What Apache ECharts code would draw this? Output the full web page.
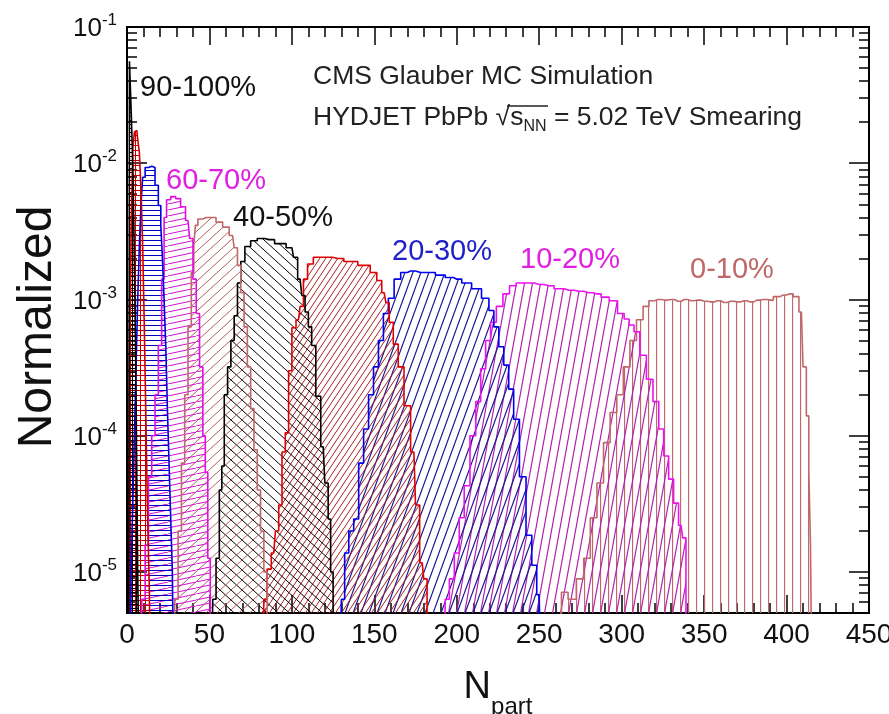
<!DOCTYPE html>
<html>
<head>
<meta charset="utf-8">
<script src="https://cdn.jsdelivr.net/npm/echarts@6/dist/echarts.min.js"></script>
<style>
  html, body { margin: 0; padding: 0; background: #fff; }
  #chart { width: 889px; height: 714px; }
</style>
</head>
<body>
<div id="chart"></div>
<script>
// Npart bins and normalized counts, one pair per centrality class
var np_0_10 = [262, 265, 270, 275, 279, 283, 287, 291, 295, 299, 303, 307, 311, 315, 318, 322, 326, 330, 334, 338, 342, 346, 350, 354, 358, 362, 366, 370, 374, 378, 382, 386, 390, 394, 398, 402, 406, 409, 411, 413, 414, 415, 416];
var val_0_10 = [1e-6, 7.1e-6, 6.3e-6, 8.9e-6, 1.26e-5, 2.5e-5, 4.5e-5, 8.9e-5, 1.48e-4, 2.0e-4, 3.2e-4, 5.0e-4, 7.1e-4, 8.9e-4, 9.8e-4, 1.0e-3, 9.9e-4, 1.0e-3, 9.7e-4, 1.0e-3, 9.8e-4, 9.9e-4, 9.7e-4, 9.6e-4, 9.8e-4, 9.5e-4, 9.7e-4, 9.6e-4, 9.8e-4, 9.6e-4, 9.9e-4, 1.0e-3, 9.9e-4, 1.05e-3, 1.08e-3, 1.1e-3, 1.05e-3, 8.1e-4, 3.2e-4, 1.4e-4, 5.6e-5, 1.6e-5, 1e-6];

var np_10_20 = [192, 194, 197, 200, 203, 206, 210, 213, 216, 219, 222, 226, 230, 234, 238, 244, 250, 256, 262, 268, 274, 280, 285, 290, 295, 300, 303, 306, 309, 313, 317, 321, 324, 327, 330, 333, 336, 338, 340];
var val_10_20 = [1e-6, 6.3e-6, 8.9e-6, 1.38e-5, 2.5e-5, 4.3e-5, 1.0e-4, 1.78e-4, 3.1e-4, 5.0e-4, 6.8e-4, 8.9e-4, 1.1e-3, 1.26e-3, 1.32e-3, 1.32e-3, 1.29e-3, 1.26e-3, 1.2e-3, 1.17e-3, 1.15e-3, 1.12e-3, 1.1e-3, 1.04e-3, 9.8e-4, 7.9e-4, 7.2e-4, 6.5e-4, 5.8e-4, 3.9e-4, 2.6e-4, 1.78e-4, 1.12e-4, 7.1e-5, 4.8e-5, 3.2e-5, 2.2e-5, 1.78e-5, 1e-6];

var np_20_30 = [129, 131, 133, 136, 139, 142, 145, 148, 151, 154, 157, 160, 164, 168, 172, 178, 184, 190, 196, 200, 206, 212, 218, 221, 224, 227, 230, 233, 236, 240, 244, 247, 250, 252];
var val_20_30 = [1e-6, 6.3e-6, 1.38e-5, 2.0e-5, 2.45e-5, 6.3e-5, 1.12e-4, 2.0e-4, 3.2e-4, 5.0e-4, 7.9e-4, 1.02e-3, 1.41e-3, 1.58e-3, 1.62e-3, 1.58e-3, 1.58e-3, 1.51e-3, 1.45e-3, 1.41e-3, 1.32e-3, 1.2e-3, 1.02e-3, 8.3e-4, 6.3e-4, 4.5e-4, 3.3e-4, 2.2e-4, 1.32e-4, 5.0e-5, 1.86e-5, 1.12e-5, 6.8e-6, 1e-6];

var np_30_40 = [82, 84, 86, 89, 91, 93, 95, 97, 99, 101, 104, 106, 108, 111, 115, 121, 128, 135, 145, 150, 153, 156, 158, 160, 163, 166, 170, 174, 176, 179, 181, 183];
var val_30_40 = [1e-6, 6.3e-6, 1.05e-5, 1.38e-5, 2.0e-5, 3.1e-5, 7.6e-5, 1.05e-4, 3.0e-4, 6.2e-4, 7.1e-4, 8.9e-4, 1.41e-3, 1.82e-3, 2.04e-3, 2.04e-3, 2.0e-3, 1.9e-3, 1.78e-3, 1.58e-3, 1.38e-3, 1.12e-3, 9.5e-4, 6.8e-4, 4.7e-4, 3.2e-4, 1.66e-4, 7.6e-5, 3.1e-5, 1.17e-5, 8.9e-6, 1e-6];

var np_40_50 = [51, 53, 55, 57, 58, 60, 62, 64, 66, 68, 70, 73, 77, 81, 86, 93, 100, 102, 105, 107, 109, 111, 113, 116, 119, 121, 123, 124, 126];
var val_40_50 = [1e-6, 6.3e-6, 1.26e-5, 4.0e-5, 6.0e-5, 2.0e-4, 3.2e-4, 5.0e-4, 7.6e-4, 1.32e-3, 1.9e-3, 2.45e-3, 2.7e-3, 2.8e-3, 2.75e-3, 2.57e-3, 2.4e-3, 2.04e-3, 1.41e-3, 1.07e-3, 8.1e-4, 6.3e-4, 4.6e-4, 1.95e-4, 8.3e-5, 4.5e-5, 2.45e-5, 1.0e-5, 1e-6];

var np_50_60 = [28, 30, 32, 34, 36, 38, 40, 41, 42, 44, 48, 52, 56, 60, 64, 66, 68, 70, 72, 74, 76, 78, 80, 82, 84, 86];
var val_50_60 = [1e-6, 6.3e-6, 2.0e-5, 6.3e-5, 2.0e-4, 6.3e-4, 1.58e-3, 2.5e-3, 3.5e-3, 3.9e-3, 4.0e-3, 4.0e-3, 3.7e-3, 3.4e-3, 2.95e-3, 2.4e-3, 1.78e-3, 1.12e-3, 6.3e-4, 3.2e-4, 1.58e-4, 7.9e-5, 4.0e-5, 2.0e-5, 1.0e-5, 1e-6];

var np_60_70 = [8, 10, 12, 14, 16, 18, 20, 22, 23, 25, 28, 31, 34, 37, 39, 41, 43, 45, 47, 48, 50, 51];
var val_60_70 = [1e-6, 6.3e-6, 1.58e-5, 5.0e-5, 1.0e-4, 2.0e-4, 4.6e-4, 1.41e-3, 4.0e-3, 5.4e-3, 5.7e-3, 5.5e-3, 4.8e-3, 3.8e-3, 2.8e-3, 1.41e-3, 7.9e-4, 3.2e-4, 1.0e-4, 5.4e-5, 1.26e-5, 1e-6];

var np_70_80 = [2, 3, 4, 5, 6, 7, 8, 9, 10, 12, 14, 16, 18, 20, 21, 22, 23, 24, 25, 26, 27, 28, 29];
var val_70_80 = [1e-6, 1.0e-5, 3.2e-5, 1.0e-4, 3.2e-4, 1.0e-3, 2.5e-3, 5.0e-3, 7.9e-3, 9.3e-3, 9.5e-3, 9.3e-3, 6.9e-3, 4.9e-3, 3.5e-3, 2.0e-3, 1.0e-3, 4.6e-4, 1.58e-4, 6.3e-5, 2.5e-5, 1.0e-5, 1e-6];

var np_80_90 = [1, 2, 3, 4, 5, 6, 7, 8, 9, 10, 11, 12, 13, 14, 15];
var val_80_90 = [1e-6, 3.2e-4, 3.2e-3, 1.26e-2, 1.7e-2, 1.74e-2, 1.5e-2, 1.2e-2, 6.3e-3, 2.5e-3, 6.3e-4, 1.26e-4, 2.5e-5, 8e-6, 1e-6];

var np_90_100 = [1, 2, 3, 4, 5, 6, 7, 8];
var val_90_100 = [1e-6, 5.6e-2, 2.5e-2, 1.0e-2, 2.0e-3, 2.0e-4, 1.0e-5, 1e-6];

var xTicks = [0, 450, 50];          // min, max, step
var yRange = [5e-6, 0.1];

var FONT = '"Liberation Sans", Arial, Helvetica, sans-serif';

// hatch fill like ROOT fill styles
function hatch(color, w, h, kind, lw) {
    var c = document.createElement('canvas');
    c.width = w;
    c.height = h;
    var ctx = c.getContext('2d');
    ctx.strokeStyle = color;
    ctx.lineWidth = lw || 1;
    ctx.beginPath();
    var k;
    if (kind === '/') {
        for (k = -1; k <= 1; k++) { ctx.moveTo(k * w, h); ctx.lineTo(k * w + w, 0); }
    }
    if (kind === '\\') {
        for (k = -1; k <= 1; k++) { ctx.moveTo(k * w, 0); ctx.lineTo(k * w + w, h); }
    }
    if (kind === '|' || kind === '+') { ctx.moveTo(0.5, 0); ctx.lineTo(0.5, h); }
    if (kind === '-' || kind === '+') { ctx.moveTo(0, 0.5); ctx.lineTo(w, 0.5); }
    ctx.stroke();
    return { image: c, repeat: 'repeat' };
}

function histo(name, np, val, color, fill) {
    return {
        name: name,
        type: 'line',
        xAxisIndex: 0,
        yAxisIndex: 0,
        step: 'middle',
        symbol: 'none',
        silent: true,
        data: np.map(function (n, i) { return [n, val[i]]; }),
        lineStyle: { color: color, width: 1.6 },
        areaStyle: { color: fill, opacity: 1, origin: 'start' }
    };
}

var chart = echarts.init(document.getElementById('chart'));

var xBase = {
    type: 'value',
    min: xTicks[0],
    max: xTicks[1],
    interval: xTicks[2],
    splitLine: { show: false },
    axisLine: { onZero: false, lineStyle: { color: '#000', width: 2 } },
    axisTick: { inside: true, length: 18, lineStyle: { color: '#000', width: 1.5 } },
    minorTick: { show: true, splitNumber: 5, length: 10, lineStyle: { color: '#000', width: 1.5 } }
};
var yBase = {
    type: 'log',
    logBase: 10,
    min: yRange[0],
    max: yRange[1],
    splitLine: { show: false },
    axisLine: { onZero: false, lineStyle: { color: '#000', width: 2 } },
    axisTick: { show: true, inside: true, length: 20, lineStyle: { color: '#000', width: 1.5 } },
    minorTick: { show: true, splitNumber: 9, length: 10, lineStyle: { color: '#000', width: 1.5 } }
};

var option = {
    animation: false,
    backgroundColor: '#fff',
    grid: { left: 127, right: 20, top: 27, bottom: 101, outerBoundsMode: 'none' },
    xAxis: [
        Object.assign({}, xBase, {
            position: 'bottom',
            name: '{n|N}{s|part}',
            nameLocation: 'middle',
            nameGap: 56,
            nameTextStyle: {
                rich: {
                    n: { fontSize: 38, fontFamily: FONT, color: '#111', verticalAlign: 'bottom' },
                    s: { fontSize: 24, fontFamily: FONT, color: '#111', verticalAlign: 'bottom', padding: [0, 0, -12, 0] }
                }
            },
            axisLabel: { fontSize: 28, fontFamily: FONT, color: '#111', margin: 8 }
        }),
        Object.assign({}, xBase, { position: 'top', axisLabel: { show: false } })
    ],
    yAxis: [
        Object.assign({}, yBase, {
            position: 'left',
            name: 'Normalized',
            nameLocation: 'middle',
            nameRotate: 90,
            nameGap: 64,
            nameTextStyle: { fontSize: 48, fontFamily: FONT, color: '#111', padding: [0, 14, 0, 0] },
            axisLabel: {
                margin: 10,
                formatter: function (v) {
                    var e = Math.round(Math.log10(v));
                    if (Math.abs(Math.log10(v) - e) > 1e-6) { return ''; }
                    return '{b|10}{s|' + e + '}';
                },
                rich: {
                    b: { fontSize: 26, fontFamily: FONT, color: '#111', verticalAlign: 'bottom' },
                    s: { fontSize: 17, fontFamily: FONT, color: '#111', verticalAlign: 'bottom', padding: [0, 0, 13, 0] }
                }
            }
        }),
        Object.assign({}, yBase, { position: 'right', axisLabel: { show: false } })
    ],
    graphic: [
        { type: 'text', left: 313, top: 63, style: { text: 'CMS Glauber MC Simulation', font: '26.5px ' + FONT, fill: '#222' } },
        {
            type: 'text', left: 313, top: 104,
            style: {
                text: '{t|HYDJET PbPb }{r|√}{s|s}{n|NN}{t| = 5.02 TeV Smearing}',
                rich: {
                    t: { fontSize: 26.5, fontFamily: FONT, fill: '#222', verticalAlign: 'bottom' },
                    r: { fontSize: 26.5, fontFamily: FONT, fill: '#222', verticalAlign: 'bottom' },
                    s: { fontSize: 26.5, fontFamily: FONT, fill: '#222', verticalAlign: 'bottom' },
                    n: { fontSize: 16, fontFamily: FONT, fill: '#222', verticalAlign: 'bottom', padding: [0, 0, -4, 0] }
                }
            }
        },
        { type: 'line', shape: { x1: 507, y1: 106, x2: 548, y2: 106 }, style: { stroke: '#222', lineWidth: 1.5 } },
        { type: 'text', left: 140, top: 73, style: { text: '90-100%', font: '29px ' + FONT, fill: '#111' } },
        { type: 'text', left: 166, top: 166, style: { text: '60-70%', font: '29px ' + FONT, fill: '#e020e0' } },
        { type: 'text', left: 233, top: 203, style: { text: '40-50%', font: '29px ' + FONT, fill: '#111' } },
        { type: 'text', left: 392, top: 237, style: { text: '20-30%', font: '29px ' + FONT, fill: '#2020c8' } },
        { type: 'text', left: 520, top: 245, style: { text: '10-20%', font: '29px ' + FONT, fill: '#e020e0' } },
        { type: 'text', left: 690, top: 255, style: { text: '0-10%', font: '29px ' + FONT, fill: '#c06868' } }
    ],
    series: [
        histo('0-10%', np_0_10, val_0_10, '#c0686a', hatch('#c0686a', 8, 8, '|', 1.3)),
        histo('10-20%', np_10_20, val_10_20, '#ee10ee', hatch('#b020b0', 8, 44, '/', 1.2)),
        histo('20-30%', np_20_30, val_20_30, '#0000f0', hatch('#1a1a90', 8, 22, '/', 1.2)),
        histo('30-40%', np_30_40, val_30_40, '#e00000', hatch('#a82020', 6, 9, '/', 1)),
        histo('40-50%', np_40_50, val_40_50, '#000000', hatch('#000000', 11, 10, '\\', 1)),
        histo('50-60%', np_50_60, val_50_60, '#c0686a', hatch('#b06060', 11, 10, '/', 1)),
        histo('60-70%', np_60_70, val_60_70, '#e010e0', hatch('#d010d0', 28, 6, '/', 1)),
        histo('70-80%', np_70_80, val_70_80, '#0000e0', hatch('#0000c0', 6, 5, '-', 1)),
        histo('80-90%', np_80_90, val_80_90, '#d00000', hatch('#c00000', 5, 5, '+', 1)),
        histo('90-100%', np_90_100, val_90_100, '#000000', hatch('#000000', 4, 4, '+', 1))
    ]
};

chart.setOption(option);
</script>
</body>
</html>
